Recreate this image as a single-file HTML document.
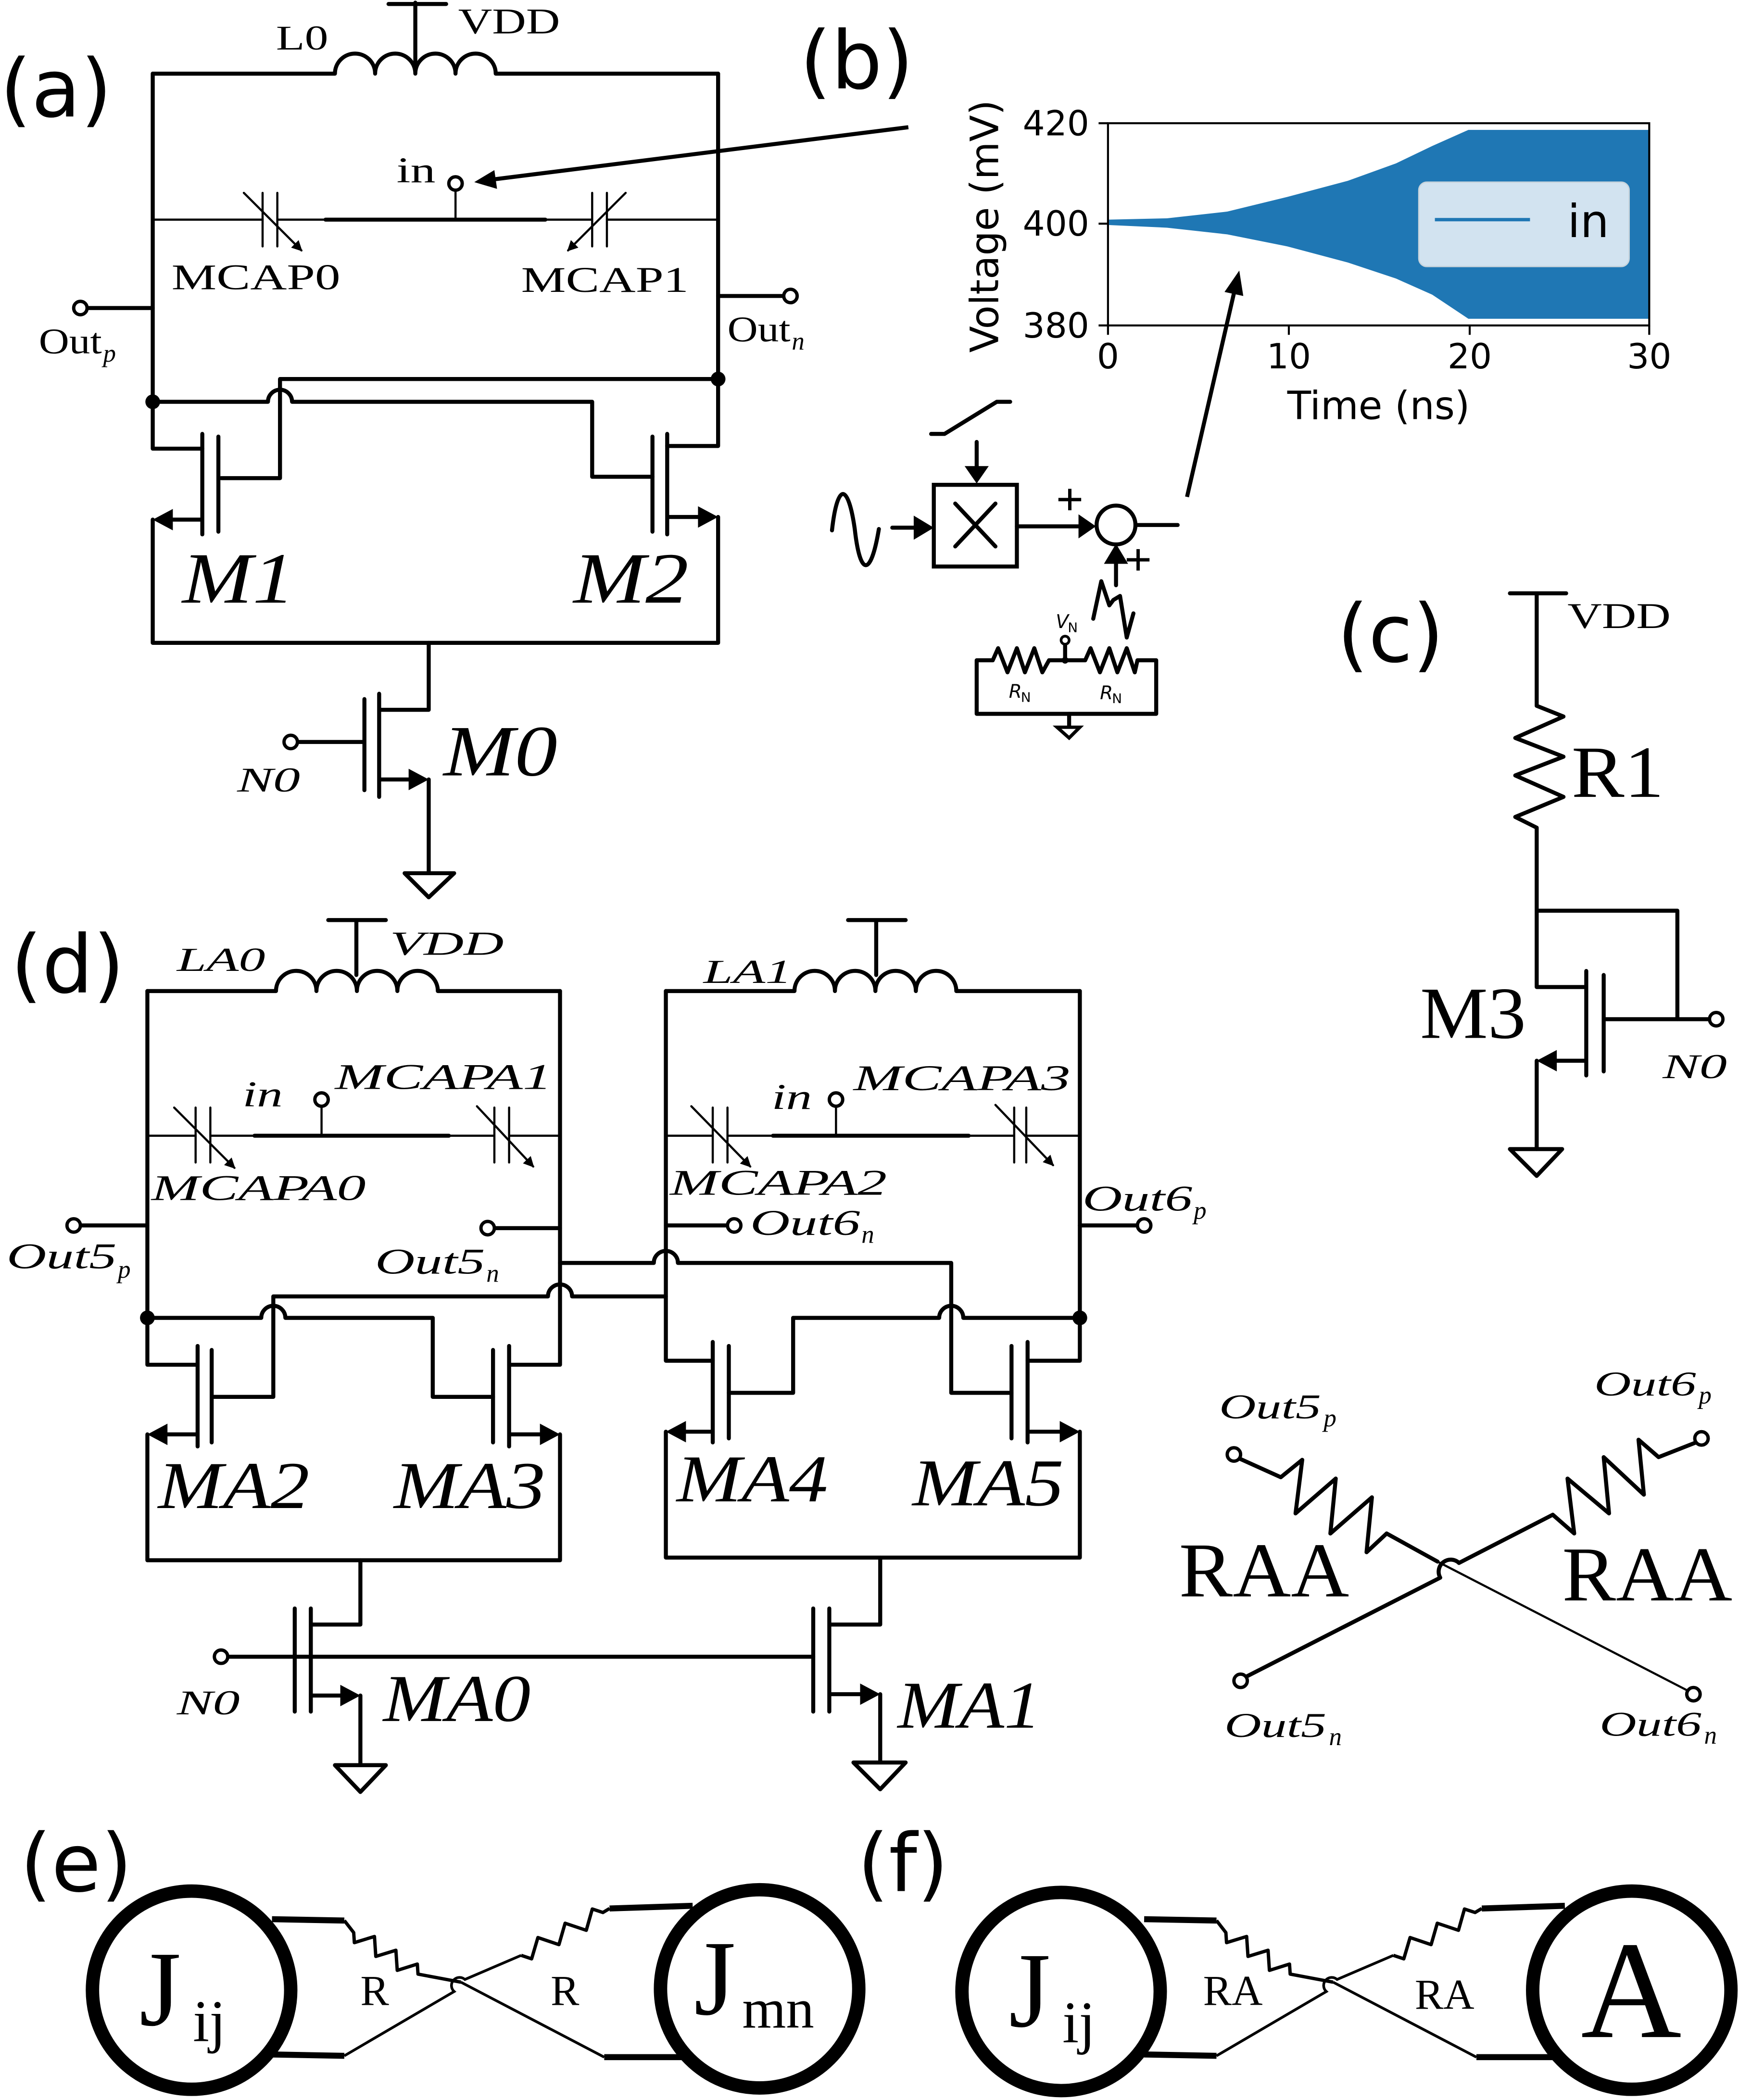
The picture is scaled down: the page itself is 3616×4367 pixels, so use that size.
<!DOCTYPE html>
<html><head><meta charset="utf-8">
<style>
html,body{margin:0;padding:0;background:#fff;}
svg{display:block;}
.w{fill:none;stroke:#000;stroke-width:3;stroke-linecap:round;stroke-linejoin:round;}
.t{fill:none;stroke:#000;stroke-width:1.6;stroke-linecap:round;}
.s{font-family:"Liberation Serif",serif;fill:#000;}
.i{font-family:"Liberation Serif",serif;font-style:italic;fill:#000;}
.d{font-family:"DejaVu Sans","Liberation Sans",sans-serif;fill:#000;}
</style></head><body>
<svg width="3616" height="4367" viewBox="0 0 1298 1568" preserveAspectRatio="none" xmlns="http://www.w3.org/2000/svg">
<defs>
<marker id="ah" markerWidth="8" markerHeight="8" refX="7" refY="4" orient="auto" markerUnits="userSpaceOnUse">
<path d="M0,0 L8,4 L0,8 Z" fill="#000"/></marker>
</defs>
<rect width="1298" height="1568" fill="#fff"/>

<!-- ===== (a) ===== -->
<text class="d" x="0" y="87" font-size="60">(a)</text>
<path class="w" d="M114,55 H250 a15,15 0 0 1 30,0 a15,15 0 0 1 30,0 a15,15 0 0 1 30,0 a15,15 0 0 1 30,0 H536"/>
<path class="w" d="M310,2 V52 M290,3 H333"/>
<text class="s" x="206" y="37" font-size="26" textLength="39" lengthAdjust="spacingAndGlyphs">L0</text>
<text class="s" x="342" y="25" font-size="27" textLength="76" lengthAdjust="spacingAndGlyphs">VDD</text>
<path class="w" d="M114,55 V335 H151 M114,388 V480 H536 V386 M536,55 V333 H498"/>
<path class="t" d="M114,164 H196 M207,164 H243 M407,164 H442 M453,164 H536"/>
<path class="w" d="M243,164 H407"/>
<path class="t" d="M196,144 V184 M207,144 V184 M442,144 V184 M453,144 V184"/>
<line class="t" x1="182" y1="144" x2="225" y2="187" marker-end="url(#ah)"/>
<line class="t" x1="467" y1="144" x2="424" y2="187" marker-end="url(#ah)"/>
<path class="t" d="M340,142 V164"/>
<circle cx="340" cy="137" r="5" fill="#fff" stroke="#000" stroke-width="2.5"/>
<text class="s" x="296" y="136" font-size="27" textLength="29" lengthAdjust="spacingAndGlyphs">in</text>
<text class="s" x="128" y="216" font-size="27" textLength="126" lengthAdjust="spacingAndGlyphs">MCAP0</text>
<text class="s" x="389" y="218" font-size="27" textLength="125" lengthAdjust="spacingAndGlyphs">MCAP1</text>
<path class="w" d="M65,230 H114 M536,221 H585"/>
<circle cx="60" cy="230" r="5" fill="#fff" stroke="#000" stroke-width="2.5"/>
<circle cx="590" cy="221" r="5" fill="#fff" stroke="#000" stroke-width="2.5"/>
<text class="s" x="29" y="264" font-size="27" textLength="47" lengthAdjust="spacingAndGlyphs">Out</text>
<text class="i" x="77" y="270" font-size="19">p</text>
<text class="s" x="543" y="255" font-size="27" textLength="47" lengthAdjust="spacingAndGlyphs">Out</text>
<text class="i" x="591" y="261" font-size="19">n</text>
<path class="w" d="M536,283 H209 V357 H165"/>
<path class="w" d="M114,300 H200 a9,9 0 0 1 18,0 H442 V356 H487"/>
<circle cx="114" cy="300" r="5.5" fill="#000"/>
<circle cx="536" cy="283" r="5.5" fill="#000"/>
<path class="w" d="M151,324 V399 M163,326 V397 M151,388 H128"/>
<polygon points="114,388 129,380 129,396" fill="#000"/>
<path class="w" d="M498,324 V399 M487,326 V397 M498,386 H522"/>
<polygon points="536,386 521,378 521,394" fill="#000"/>
<text class="i" x="136" y="450" font-size="54" textLength="84" lengthAdjust="spacingAndGlyphs">M1</text>
<text class="i" x="428" y="450" font-size="54" textLength="86" lengthAdjust="spacingAndGlyphs">M2</text>
<path class="w" d="M320,480 V530 H283 M283,518 V595 M272,522 V590 M222,554 H272 M283,582 H306 M320,582 V652"/>
<polygon points="320,582 305,574 305,590" fill="#000"/>
<circle cx="217" cy="554" r="5" fill="#fff" stroke="#000" stroke-width="2.5"/>
<path class="w" d="M302,652 H339 L320,670 Z"/>
<text class="i" x="177" y="591" font-size="26" textLength="47" lengthAdjust="spacingAndGlyphs">N0</text>
<text class="i" x="331" y="579" font-size="54" textLength="85" lengthAdjust="spacingAndGlyphs">M0</text>

<line x1="678" y1="95" x2="368" y2="134" stroke="#000" stroke-width="3"/>
<polygon points="354,136 371,141 369,127" fill="#000"/>

<!-- ===== (b) ===== -->
<text class="d" x="597" y="66" font-size="60">(b)</text>
<polygon fill="#1f77b4" points="827,164 871,163 916,158 961,147 1006,135 1042,122 1069,109 1096,97 1231,97 1231,238 1096,238 1069,220 1042,208 1006,196 961,184 916,175 871,170 827,168"/>
<rect x="827" y="92" width="404" height="151" fill="none" stroke="#000" stroke-width="1.5"/>
<path stroke="#000" stroke-width="1.5" d="M820,92 H827 M820,167 H827 M820,243 H827 M827,243 V250 M962,243 V250 M1097,243 V250 M1231,243 V250"/>
<rect x="1059" y="136" width="157" height="63" rx="6" fill="#d2e3f0" stroke="#c8d4dc" stroke-width="1"/>
<line x1="1071" y1="164" x2="1142" y2="164" stroke="#1f77b4" stroke-width="2.5"/>
<text class="d" x="1170" y="177" font-size="34">in</text>
<text class="d" x="813" y="101" font-size="26" text-anchor="end">420</text>
<text class="d" x="813" y="176" font-size="26" text-anchor="end">400</text>
<text class="d" x="813" y="252" font-size="26" text-anchor="end">380</text>
<text class="d" x="827" y="275" font-size="26" text-anchor="middle">0</text>
<text class="d" x="962" y="275" font-size="26" text-anchor="middle">10</text>
<text class="d" x="1097" y="275" font-size="26" text-anchor="middle">20</text>
<text class="d" x="1231" y="275" font-size="26" text-anchor="middle">30</text>
<text class="d" x="1029" y="313" font-size="29" text-anchor="middle">Time (ns)</text>
<text class="d" font-size="29" text-anchor="middle" transform="translate(745,169) rotate(-90)">Voltage (mV)</text>
<line x1="886" y1="371" x2="921" y2="219" stroke="#000" stroke-width="3"/>
<polygon points="925,202 928,221 914,218" fill="#000"/>
<path class="w" d="M621,396 C625,360 633,360 638,395 C642,431 650,431 656,395"/>
<path class="w" d="M666,394 H684"/>
<polygon points="682,385 697,394 682,403" fill="#000"/>
<rect x="697" y="362" width="62" height="61" fill="none" stroke="#000" stroke-width="3"/>
<path class="w" d="M713,376 L743,408 M743,376 L713,408"/>
<path class="w" d="M695,324 H705 L744,300 H754"/>
<path class="w" d="M729,330 V348"/>
<polygon points="720,348 738,348 729,361" fill="#000"/>
<path class="w" d="M759,393 H806"/>
<polygon points="805,384 818,393 805,402" fill="#000"/>
<circle cx="833" cy="392" r="14.5" fill="none" stroke="#000" stroke-width="3"/>
<path class="w" d="M848,392 H879"/>
<path stroke="#000" stroke-width="2.5" d="M790,373 H807 M798.5,365 V381 M841,418 H858 M849.5,410 V426"/>
<path class="w" d="M833,437 V420"/>
<polygon points="824,421 842,421 833,406" fill="#000"/>
<polyline class="w" points="816,462 822,434 828,452 831,448 836,445 841,476 846,458"/>
<path class="w" d="M729,493 H741 L745,484 L752,502 L759,484 L765,502 L772,484 L778,502 L783,493 H810 L814,484 L821,502 L828,484 L834,502 L841,484 L847,502 L849,493 H863 V533 H729 Z"/>
<path class="w" d="M795,481 V493 M798,533 V542"/>
<circle cx="795" cy="478" r="3" fill="#fff" stroke="#000" stroke-width="2"/>
<circle cx="795" cy="493" r="2.5" fill="#000"/>
<path stroke="#000" stroke-width="2.5" fill="none" d="M789,543 H806 L798,551 Z"/>
<text class="d" x="788" y="469" font-size="14" font-style="italic">V</text>
<text class="d" x="797" y="472" font-size="10">N</text>
<text class="d" x="753" y="521" font-size="14" font-style="italic">R</text>
<text class="d" x="762" y="524" font-size="10">N</text>
<text class="d" x="821" y="522" font-size="14" font-style="italic">R</text>
<text class="d" x="830" y="525" font-size="10">N</text>

<!-- ===== (c) ===== -->
<text class="d" x="998" y="494" font-size="60">(c)</text>
<path class="w" d="M1127,443 H1169 M1147,443 V527 L1167,535 L1131,551 L1167,565 L1131,579 L1167,595 L1131,610 L1147,618 V737 H1184 M1147,680 H1252 V761 H1276 M1184,725 V803 M1197,728 V800 M1184,792 H1161 M1147,792 V858"/>
<polygon points="1147,792 1162,784 1162,800" fill="#000"/>
<circle cx="1281" cy="761" r="5" fill="#fff" stroke="#000" stroke-width="2.5"/>
<path class="w" d="M1127,858 H1166 L1147,878 Z"/>
<path class="w" d="M1197,761 H1252"/>
<text class="s" x="1170" y="469" font-size="27" textLength="77" lengthAdjust="spacingAndGlyphs">VDD</text>
<text class="s" x="1173" y="595" font-size="55" textLength="69" lengthAdjust="spacingAndGlyphs">R1</text>
<text class="s" x="1060" y="775" font-size="55" textLength="79" lengthAdjust="spacingAndGlyphs">M3</text>
<text class="i" x="1241" y="805" font-size="26" textLength="48" lengthAdjust="spacingAndGlyphs">N0</text>

<!-- ===== (d) ===== -->
<text class="d" x="8" y="741" font-size="60">(d)</text>
<path class="w" d="M110,740 H206 a15.1,15.1 0 0 1 30.2,0 a15.1,15.1 0 0 1 30.2,0 a15.1,15.1 0 0 1 30.2,0 a15.1,15.1 0 0 1 30.2,0 H418"/>
<path class="w" d="M266,687 V728 M245,687 H288"/>
<path class="w" d="M110,740 V1019 H147 M110,1071 V1165 H418 V1071 M418,740 V1019 H380"/>
<path class="t" d="M110,848 H146 M157,848 H190 M335,848 H369 M380,848 H418 M146,827 V868 M157,827 V868 M369,827 V868 M380,827 V868"/>
<path class="w" d="M190,848 H335"/>
<line class="t" x1="130" y1="827" x2="175" y2="872" marker-end="url(#ah)"/>
<line class="t" x1="356" y1="826" x2="398" y2="871" marker-end="url(#ah)"/>
<path class="t" d="M240,826 V848"/>
<circle cx="240" cy="821" r="5" fill="#fff" stroke="#000" stroke-width="2.5"/>
<path class="w" d="M60,915 H110 M369,917 H418"/>
<circle cx="55" cy="915" r="5" fill="#fff" stroke="#000" stroke-width="2.5"/>
<circle cx="364" cy="917" r="5" fill="#fff" stroke="#000" stroke-width="2.5"/>
<path class="w" d="M497,740 H593 a15.1,15.1 0 0 1 30.2,0 a15.1,15.1 0 0 1 30.2,0 a15.1,15.1 0 0 1 30.2,0 a15.1,15.1 0 0 1 30.2,0 H806"/>
<path class="w" d="M654,687 V728 M633,687 H676"/>
<path class="w" d="M497,740 V1016 H532 M497,1069 V1163 H806 V1069 M806,740 V1016 H767"/>
<path class="t" d="M497,848 H532 M543,848 H577 M723,848 H757 M766,848 H806 M532,827 V868 M543,827 V868 M757,827 V868 M766,827 V868"/>
<path class="w" d="M577,848 H723"/>
<line class="t" x1="516" y1="826" x2="560" y2="871" marker-end="url(#ah)"/>
<line class="t" x1="743" y1="825" x2="786" y2="870" marker-end="url(#ah)"/>
<path class="t" d="M624,826 V848"/>
<circle cx="624" cy="821" r="5" fill="#fff" stroke="#000" stroke-width="2.5"/>
<path class="w" d="M497,915 H543 M806,915 H849"/>
<circle cx="548" cy="915" r="5" fill="#fff" stroke="#000" stroke-width="2.5"/>
<circle cx="854" cy="915" r="5" fill="#fff" stroke="#000" stroke-width="2.5"/>
<path class="w" d="M110,984 H195 a9,9 0 0 1 18,0 H323 V1043 H368"/>
<path class="w" d="M497,968 H427 a9,9 0 0 0 -18,0 H204 V1043 H158"/>
<path class="w" d="M418,943 H488 a9,9 0 0 1 18,0 H710 V1040 H755"/>
<path class="w" d="M806,984 H719 a9,9 0 0 0 -18,0 H592 V1040 H544"/>
<circle cx="110" cy="984" r="5.5" fill="#000"/>
<circle cx="806" cy="984" r="5.5" fill="#000"/>
<path class="w" d="M147.5,1005 V1080 M158,1008 V1077 M147,1071 H124"/>
<polygon points="110,1071 125,1063 125,1079" fill="#000"/>
<path class="w" d="M380,1005 V1080 M368,1008 V1077 M380,1071 H404"/>
<polygon points="418,1071 403,1063 403,1079" fill="#000"/>
<path class="w" d="M532,1002 V1077 M544,1005 V1074 M532,1069 H511"/>
<polygon points="497,1069 512,1061 512,1077" fill="#000"/>
<path class="w" d="M767,1002 V1077 M755,1005 V1074 M767,1069 H792"/>
<polygon points="806,1069 791,1061 791,1077" fill="#000"/>
<path class="w" d="M269,1165 V1213 H232 M232,1201 V1278 M220,1201 V1278 M170,1237 H607 M232,1266 H255 M269,1266 V1317"/>
<polygon points="269,1266 254,1258 254,1274" fill="#000"/>
<circle cx="165" cy="1237" r="5" fill="#fff" stroke="#000" stroke-width="2.5"/>
<path class="w" d="M250,1318 H288 L269,1338 Z"/>
<path class="w" d="M657,1163 V1213 H619 M619,1201 V1278 M607,1201 V1278 M619,1265 H643 M657,1265 V1315"/>
<polygon points="657,1265 642,1257 642,1273" fill="#000"/>
<path class="w" d="M637,1316 H676 L657,1336 Z"/>
<text class="i" x="132" y="725" font-size="25" textLength="66" lengthAdjust="spacingAndGlyphs">LA0</text>
<text class="i" x="291" y="713" font-size="25" textLength="85" lengthAdjust="spacingAndGlyphs">VDD</text>
<text class="i" x="181" y="826" font-size="27" textLength="30" lengthAdjust="spacingAndGlyphs">in</text>
<text class="i" x="250" y="813" font-size="27" textLength="162" lengthAdjust="spacingAndGlyphs">MCAPA1</text>
<text class="i" x="113" y="896" font-size="27" textLength="160" lengthAdjust="spacingAndGlyphs">MCAPA0</text>
<text class="i" x="5" y="947" font-size="27" textLength="82" lengthAdjust="spacingAndGlyphs">Out5</text>
<text class="i" x="88" y="954" font-size="19">p</text>
<text class="i" x="280" y="951" font-size="27" textLength="82" lengthAdjust="spacingAndGlyphs">Out5</text>
<text class="i" x="363" y="957" font-size="19">n</text>
<text class="i" x="525" y="734" font-size="25" textLength="66" lengthAdjust="spacingAndGlyphs">LA1</text>
<text class="i" x="576" y="828" font-size="27" textLength="30" lengthAdjust="spacingAndGlyphs">in</text>
<text class="i" x="637" y="814" font-size="27" textLength="162" lengthAdjust="spacingAndGlyphs">MCAPA3</text>
<text class="i" x="500" y="892" font-size="27" textLength="162" lengthAdjust="spacingAndGlyphs">MCAPA2</text>
<text class="i" x="560" y="922" font-size="27" textLength="82" lengthAdjust="spacingAndGlyphs">Out6</text>
<text class="i" x="643" y="928" font-size="19">n</text>
<text class="i" x="808" y="904" font-size="27" textLength="82" lengthAdjust="spacingAndGlyphs">Out6</text>
<text class="i" x="891" y="910" font-size="19">p</text>
<text class="i" x="118" y="1126" font-size="50" textLength="113" lengthAdjust="spacingAndGlyphs">MA2</text>
<text class="i" x="294" y="1126" font-size="50" textLength="113" lengthAdjust="spacingAndGlyphs">MA3</text>
<text class="i" x="505" y="1121" font-size="50" textLength="113" lengthAdjust="spacingAndGlyphs">MA4</text>
<text class="i" x="681" y="1124" font-size="50" textLength="113" lengthAdjust="spacingAndGlyphs">MA5</text>
<text class="i" x="132" y="1280" font-size="26" textLength="47" lengthAdjust="spacingAndGlyphs">N0</text>
<text class="i" x="286" y="1285" font-size="50" textLength="110" lengthAdjust="spacingAndGlyphs">MA0</text>
<text class="i" x="670" y="1290" font-size="50" textLength="107" lengthAdjust="spacingAndGlyphs">MA1</text>

<!-- coupling network -->
<path class="w" d="M925,1089 L956,1103 L972,1090 L967,1130 L997,1104 L993,1145 L1024,1118 L1020,1159 L1035,1145 L1073,1166"/>
<path class="t" stroke-width="2" d="M1073,1166 L1261,1263"/>
<path class="w" d="M1266,1077 L1238,1088 L1223,1075 L1227,1116 L1197,1088 L1201,1130 L1170,1104 L1175,1145 L1159,1131 L1089,1167 A9,9 0 0 0 1075,1178 L930,1252"/>
<circle cx="921" cy="1086" r="5" fill="#fff" stroke="#000" stroke-width="2.5"/>
<circle cx="1270" cy="1074" r="5" fill="#fff" stroke="#000" stroke-width="2.5"/>
<circle cx="926" cy="1255" r="5" fill="#fff" stroke="#000" stroke-width="2.5"/>
<circle cx="1264" cy="1265" r="5" fill="#fff" stroke="#000" stroke-width="2.5"/>
<text class="i" x="910" y="1059" font-size="26" textLength="76" lengthAdjust="spacingAndGlyphs">Out5</text>
<text class="i" x="988" y="1065" font-size="19">p</text>
<text class="i" x="1190" y="1042" font-size="26" textLength="76" lengthAdjust="spacingAndGlyphs">Out6</text>
<text class="i" x="1268" y="1048" font-size="19">p</text>
<text class="i" x="914" y="1297" font-size="26" textLength="76" lengthAdjust="spacingAndGlyphs">Out5</text>
<text class="i" x="992" y="1303" font-size="19">n</text>
<text class="i" x="1194" y="1296" font-size="26" textLength="76" lengthAdjust="spacingAndGlyphs">Out6</text>
<text class="i" x="1272" y="1302" font-size="19">n</text>
<text class="s" x="880" y="1192" font-size="58" textLength="127" lengthAdjust="spacingAndGlyphs">RAA</text>
<text class="s" x="1166" y="1195" font-size="58" textLength="127" lengthAdjust="spacingAndGlyphs">RAA</text>

<!-- ===== (e) (f) ===== -->
<text class="d" x="15" y="1412" font-size="60">(e)</text>
<text class="d" x="640" y="1412" font-size="60">(f)</text>
<g>
<path fill="none" stroke="#000" stroke-width="4.5" d="M203,1433 L257,1434 M451,1536 L509,1536 M203,1534 L257,1535 M455,1425 L517,1423"/>
<polyline fill="none" stroke="#000" stroke-width="2.5" stroke-linejoin="round" points="257,1434 264,1443 264.5,1450.5 279.5,1445.9 280.5,1460.8 295.5,1456.2 296.5,1471.2 311.5,1466.5 312,1474 344,1480"/>
<path fill="none" stroke="#000" stroke-width="2" d="M344,1480 L451,1536"/>
<path fill="none" stroke="#000" stroke-width="2" d="M257,1535 L339,1487 A5,5 0 0 1 347,1478 L389,1460"/>
<polyline fill="none" stroke="#000" stroke-width="2.5" stroke-linejoin="round" points="389,1460 396.8,1462.6 401.5,1446.7 417.2,1452 421.8,1436 437.6,1441.3 442.1,1425.4 450,1428 455,1425"/>
</g>
<g transform="translate(651,0)">
<path fill="none" stroke="#000" stroke-width="4.5" d="M203,1433 L257,1434 M451,1536 L509,1536 M203,1534 L257,1535 M455,1425 L517,1423"/>
<polyline fill="none" stroke="#000" stroke-width="2.5" stroke-linejoin="round" points="257,1434 264,1443 264.5,1450.5 279.5,1445.9 280.5,1460.8 295.5,1456.2 296.5,1471.2 311.5,1466.5 312,1474 344,1480"/>
<path fill="none" stroke="#000" stroke-width="2" d="M344,1480 L451,1536"/>
<path fill="none" stroke="#000" stroke-width="2" d="M257,1535 L339,1487 A5,5 0 0 1 347,1478 L389,1460"/>
<polyline fill="none" stroke="#000" stroke-width="2.5" stroke-linejoin="round" points="389,1460 396.8,1462.6 401.5,1446.7 417.2,1452 421.8,1436 437.6,1441.3 442.1,1425.4 450,1428 455,1425"/>
</g>
<circle cx="143" cy="1486" r="74" fill="#fff" stroke="#000" stroke-width="10"/>
<circle cx="567" cy="1485" r="74" fill="#fff" stroke="#000" stroke-width="10"/>
<circle cx="792" cy="1487" r="74" fill="#fff" stroke="#000" stroke-width="10"/>
<circle cx="1218" cy="1486" r="74" fill="#fff" stroke="#000" stroke-width="10"/>
<text class="s" x="104" y="1512" font-size="80">J</text>
<text class="s" x="144" y="1524" font-size="44">ij</text>
<text class="s" x="518" y="1504" font-size="80">J</text>
<text class="s" x="554" y="1514" font-size="42">mn</text>
<text class="s" x="753" y="1513" font-size="80">J</text>
<text class="s" x="793" y="1525" font-size="44">ij</text>
<text class="s" x="1180" y="1521" font-size="104">A</text>
<text class="s" x="269" y="1497" font-size="32">R</text>
<text class="s" x="411" y="1497" font-size="32">R</text>
<text class="s" x="898" y="1497" font-size="32">RA</text>
<text class="s" x="1056" y="1500" font-size="32">RA</text>
</svg>
</body></html>
